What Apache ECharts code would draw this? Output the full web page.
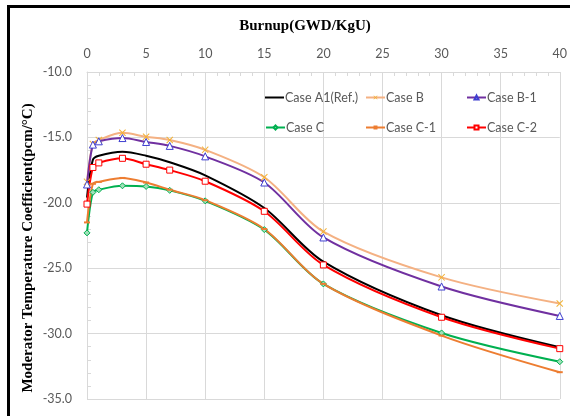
<!DOCTYPE html>
<html>
<head>
<meta charset="utf-8">
<script src="https://cdn.jsdelivr.net/npm/echarts@6/dist/echarts.min.js"></script>
<style>
  html, body { margin: 0; padding: 0; background: #fff; }
  #chart { width: 570px; height: 416px; }
</style>
</head>
<body>
<div id="chart"></div>
<script>
// burnup points (GWD/KgU)
var burnup = [0, 0.5, 1, 3, 5, 7, 10, 15, 20, 30, 40];

// MTC values (pcm/°C)
var caseA1 = [-19.6, -16.7, -16.4, -16.1, -16.4, -16.9, -17.9, -20.4, -24.5, -28.6, -31.05];
var caseB  = [-18.4, -15.5, -15.2, -14.65, -14.95, -15.2, -15.95, -18.05, -22.2, -25.7, -27.7];
var caseB1 = [-18.6, -15.55, -15.3, -15.05, -15.35, -15.65, -16.45, -18.45, -22.65, -26.4, -28.65];
var caseC  = [-22.3, -19.2, -19.0, -18.7, -18.75, -19.05, -19.85, -22.05, -26.2, -29.95, -32.15];
var caseC1 = [-21.5, -18.55, -18.4, -18.1, -18.45, -19.0, -19.8, -22.0, -26.2, -30.15, -32.95];
var caseC2 = [-20.1, -17.3, -16.95, -16.6, -17.05, -17.5, -18.35, -20.65, -24.75, -28.75, -31.15];

var names = ['Case A1(Ref.)', 'Case B', 'Case B-1', 'Case C', 'Case C-1', 'Case C-2'];

function pairs(ys) {
    return burnup.map(function (x, i) { return [x, ys[i]]; });
}

var myChart = echarts.init(document.getElementById('chart'));

var gridColor = '#d9d9d9';
var labelColor = '#595959';
var crossPath = 'path://M0,1L1,0L5,4L9,0L10,1L6,5L10,9L9,10L5,6L1,10L0,9L4,5Z';

function lineSeries(name, ys, color, symbol, size, itemStyle) {
    return {
        name: name,
        type: 'line',
        data: pairs(ys),
        smooth: 0.3,
        symbol: symbol,
        symbolSize: size,
        showSymbol: symbol !== 'none',
        lineStyle: { color: color, width: 2 },
        itemStyle: itemStyle || { color: color },
        emphasis: { disabled: true }
    };
}

// one legend per entry so the columns line up like the original
var legendPos = [
    [265, 91], [365, 91], [466, 91],
    [265, 121], [365, 121], [466, 121]
];
var legends = names.map(function (n, i) {
    var lg = {
        data: [n],
        left: legendPos[i][0],
        top: legendPos[i][1],
        itemWidth: 19,
        itemHeight: 5,
        itemGap: 0,
        padding: 0,
        textStyle: { color: labelColor, fontSize: 12.5, fontFamily: 'Lato', padding: [0, 0, 0, -4] }
    };
    if (i === 0) {
        lg.icon = 'rect';
        lg.itemHeight = 2;
    }
    return lg;
});

var option = {
    backgroundColor: '#fff',
    animation: false,
    title: {
        text: 'Burnup(GWD/KgU)',
        left: 300,
        top: 14,
        textAlign: 'center',
        textStyle: { fontFamily: 'Liberation Serif', fontWeight: 'bold', fontSize: 15, color: '#000' }
    },
    legend: legends,
    grid: { left: 87, right: 10, top: 72, bottom: 17 },
    xAxis: {
        type: 'value',
        position: 'top',
        min: 0,
        max: 40,
        interval: 5,
        axisLine: { lineStyle: { color: gridColor } },
        axisTick: { show: true, inside: true, length: 4, lineStyle: { color: gridColor } },
        minorTick: { show: true, splitNumber: 5, length: 4, lineStyle: { color: gridColor } },
        splitLine: { show: true, lineStyle: { color: gridColor, width: 1 } },
        axisLabel: { color: labelColor, fontSize: 12.5, fontFamily: 'Lato', margin: 12 }
    },
    yAxis: {
        type: 'value',
        min: -35,
        max: -10,
        interval: 5,
        axisLine: { show: true, lineStyle: { color: gridColor } },
        axisTick: { show: true, inside: true, length: 4, lineStyle: { color: gridColor } },
        minorTick: { show: true, splitNumber: 5, length: 4, lineStyle: { color: gridColor } },
        splitLine: { show: true, lineStyle: { color: gridColor, width: 1 } },
        axisLabel: {
            color: labelColor, fontSize: 12.5, fontFamily: 'Lato', margin: 15,
            formatter: function (v) { return v.toFixed(1); }
        }
    },
    graphic: [
        { type: 'line', shape: { x1: 8.5, y1: 5, x2: 8.5, y2: 416 }, style: { stroke: '#000', lineWidth: 3 } },
        { type: 'line', shape: { x1: 7, y1: 6.5, x2: 570, y2: 6.5 }, style: { stroke: '#000', lineWidth: 3 } },
        {
            type: 'text',
            x: 28,
            y: 248,
            rotation: Math.PI / 2,
            style: {
                text: 'Moderator Temperature Coefficient(pcm/°C)',
                fontFamily: 'Liberation Serif',
                fontWeight: 'bold',
                fontSize: 15,
                fill: '#000',
                align: 'center',
                verticalAlign: 'middle'
            }
        }
    ],
    series: [
        lineSeries(names[0], caseA1, '#000000', 'none', 0),
        lineSeries(names[1], caseB, '#F4B183', crossPath, 7, { color: '#F2B134' }),
        lineSeries(names[2], caseB1, '#7030A0', 'triangle', 7, { color: '#ffffff', borderColor: '#3F3FD0', borderWidth: 1 }),
        lineSeries(names[3], caseC, '#00B050', 'diamond', 6, { color: '#9fe0b8', borderColor: '#00B050', borderWidth: 1 }),
        lineSeries(names[4], caseC1, '#ED7D31', 'rect', [6, 2], { color: '#ED7D31' }),
        lineSeries(names[5], caseC2, '#FF0000', 'rect', 6, { color: '#ffffff', borderColor: '#FF0000', borderWidth: 1 })
    ]
};

myChart.setOption(option);
</script>
</body>
</html>
